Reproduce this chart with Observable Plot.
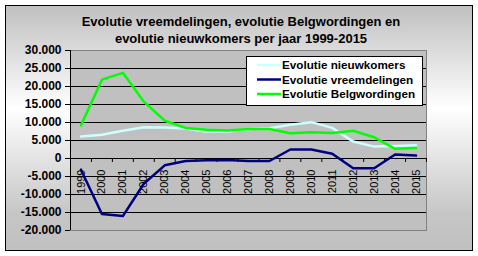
<!DOCTYPE html>
<html><head><meta charset="utf-8">
<script src="https://cdn.jsdelivr.net/npm/d3@7"></script>
<script src="https://cdn.jsdelivr.net/npm/@observablehq/plot@0.6"></script>
<style>
body{margin:0;background:#fff;font-family:Arial,"Liberation Sans",sans-serif;}
#wrap{position:relative;width:478px;height:256px;overflow:hidden;}
#panel{position:absolute;left:5px;top:5px;width:466px;height:244px;border:1px solid #000;
  background:linear-gradient(to bottom,#c0c0c0 0%,#ffffff 42%,#c6c6c6 85%,#c0c0c0 100%);}
#title{position:absolute;left:0;top:13px;width:482px;text-align:center;font-weight:bold;font-size:13px;line-height:17px;color:#000;}
#chart{position:absolute;left:0;top:0;}
#legend{position:absolute;left:246px;top:56px;}
</style></head>
<body>
<div id="wrap">
  <div id="panel"></div>
  <div id="chart"></div>
  <div id="title">Evolutie vreemdelingen, evolutie Belgwordingen en<br>evolutie nieuwkomers per jaar 1999-2015</div>
  <div id="legend"></div>
</div>
<script>
const years = [1999,2000,2001,2002,2003,2004,2005,2006,2007,2008,2009,2010,2011,2012,2013,2014,2015];
const nieuwkomers   = [6100,6600,7700,8700,8600,8300,7400,7500,8200,8400,9400,10100,8500,4700,3300,3500,3700];
const vreemdelingen = [-3100,-15400,-16000,-7000,-1900,-700,-500,-400,-700,-700,2500,2500,1300,-2700,-2700,1100,800];
const belgwordingen = [9200,21900,23800,15800,10500,8500,8000,7800,8200,8200,7000,7300,7100,7700,5900,2700,2900];
const yTicks = [-20000,-15000,-10000,-5000,0,5000,10000,15000,20000,25000,30000];
const seriesNames = ["Evolutie nieuwkomers","Evolutie vreemdelingen","Evolutie Belgwordingen"];
const seriesColors = ["#ccffff","#000080","#00ff00"];
const seriesValues = [nieuwkomers, vreemdelingen, belgwordingen];

const table = [];
seriesNames.forEach((name, s) => years.forEach((yr, i) => table.push({series: name, year: yr, value: seriesValues[s][i]})));

const xDomain = [years[0] - 0.5, years[years.length - 1] + 0.5];
const boundaries = [years[0] - 0.5, ...years.map(y => y + 0.5)];
const innerGrid = yTicks.slice(1, -1);

const loc = d3.formatLocale({decimal: ",", thousands: ".", grouping: [3], currency: ["€", ""], minus: "-"});
const fmt = loc.format(",d");

const chart = Plot.plot({
  width: 478, height: 256,
  marginLeft: 70, marginRight: 52, marginTop: 50, marginBottom: 26,
  style: {background: "transparent", fontFamily: "Arial, 'Liberation Sans', sans-serif", color: "#000"},
  x: {domain: xDomain, axis: null},
  y: {domain: [yTicks[0], yTicks[yTicks.length - 1]], axis: null},
  color: {domain: seriesNames, range: seriesColors},
  marks: [
    Plot.frame({fill: "#c0c0c0", stroke: "none"}),
    Plot.ruleY(innerGrid, {stroke: "#000", strokeWidth: 1}),
    Plot.frame({stroke: "#808080", strokeWidth: 1}),
    Plot.ruleX([xDomain[0]], {stroke: "#000"}),
    Plot.axisY({ticks: yTicks, tickFormat: fmt, label: null, tickSize: 5, tickPadding: 4, fontSize: 12, fontWeight: "bold", stroke: "#000", fill: "#000"}),
    Plot.ruleY([0], {stroke: "#000"}),
    Plot.ruleX(boundaries, {x: d => d, y1: 0, y2: 0, insetBottom: -4, stroke: "#000"}),
    Plot.text(years, {x: d => d, y: 0, text: d => String(d), rotate: -90, textAnchor: "end", lineAnchor: "middle", dy: 11, fontSize: 11, fill: "#000"}),
    Plot.line(table, {x: "year", y: "value", z: "series", stroke: "series", strokeWidth: 2.5, strokeLinejoin: "round", strokeLinecap: "round"})
  ]
});
document.getElementById("chart").appendChild(chart);

// legend
const lw = 176, lh = 49;
const leg = d3.select("#legend").append("svg").attr("width", lw + 1).attr("height", lh + 1)
  .style("font-family", "Arial, 'Liberation Sans', sans-serif");
leg.append("rect").attr("x", 0.5).attr("y", 0.5).attr("width", lw).attr("height", lh).attr("fill", "#fff").attr("stroke", "#000");
seriesNames.forEach((name, i) => {
  const cy = 9 + i * 14.5;
  leg.append("line").attr("x1", 11).attr("x2", 35).attr("y1", cy).attr("y2", cy).attr("stroke", seriesColors[i]).attr("stroke-width", 2.5);
  leg.append("text").attr("x", 36).attr("y", cy).attr("dy", "0.36em").attr("font-size", 11.7).attr("font-weight", "bold").text(name);
});
</script>
</body></html>
